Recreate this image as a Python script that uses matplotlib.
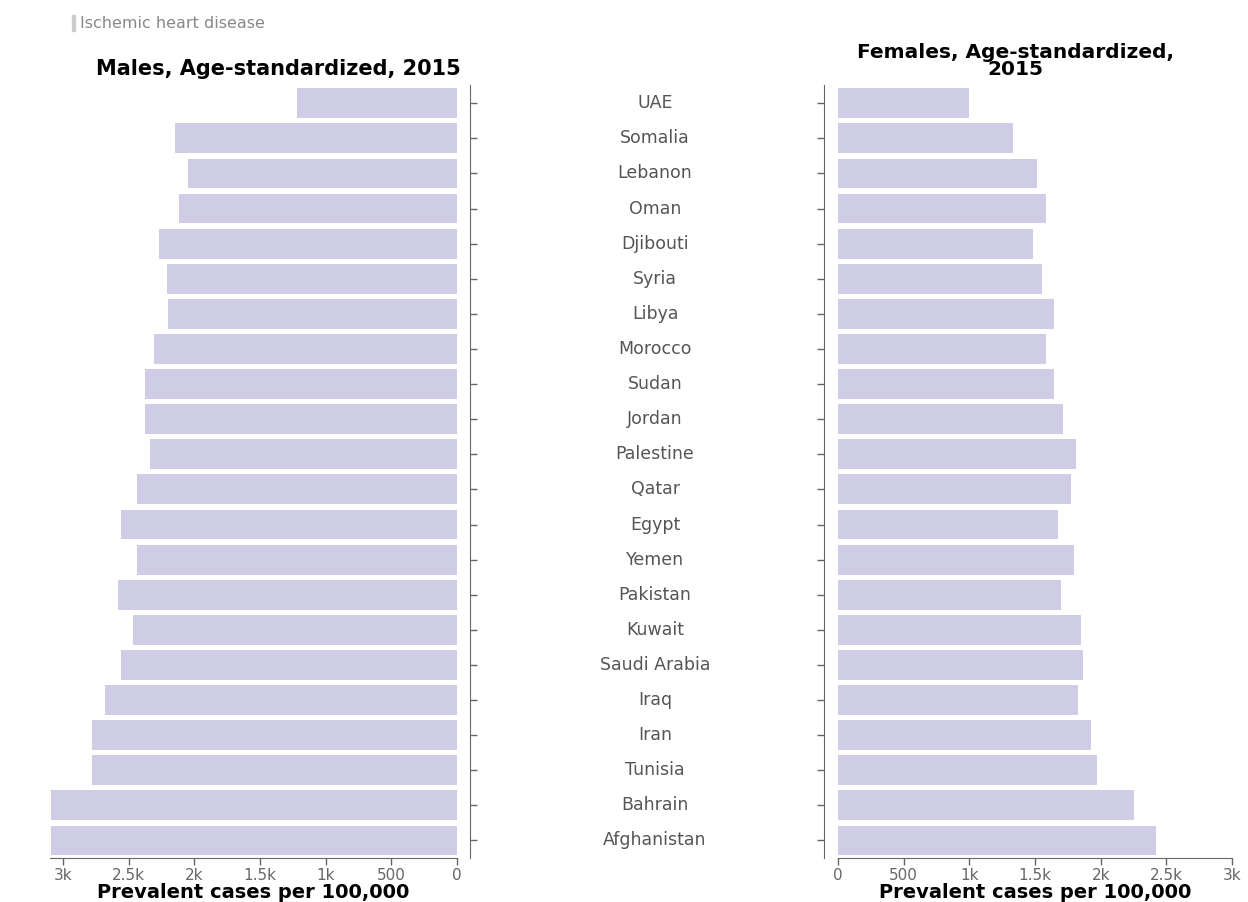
import matplotlib
matplotlib.use("Agg")
import matplotlib.pyplot as plt
import matplotlib.transforms as mtransforms

countries = ["UAE", "Somalia", "Lebanon", "Oman", "Djibouti", "Syria", "Libya",
             "Morocco", "Sudan", "Jordan", "Palestine", "Qatar", "Egypt", "Yemen",
             "Pakistan", "Kuwait", "Saudi Arabia", "Iraq", "Iran", "Tunisia",
             "Bahrain", "Afghanistan"]
males = [1220, 2150, 2050, 2120, 2270, 2210, 2200, 2310, 2380, 2380, 2340, 2440,
         2560, 2440, 2580, 2470, 2560, 2680, 2780, 2780, 3090, 3090]
females = [1000, 1336, 1519, 1580, 1481, 1557, 1641, 1580, 1641, 1710, 1809, 1771,
           1672, 1794, 1695, 1847, 1863, 1824, 1924, 1969, 2252, 2420]
ticks = [0, 500, 1000, 1500, 2000, 2500, 3000]
tick_labels = ["0", "500", "1k", "1.5k", "2k", "2.5k", "3k"]

bar_color = "#cfcde6"
grey = "#666666"

fig = plt.figure(figsize=(12.48, 9.02), dpi=100)
ax_l = fig.add_axes([50 / 1248, 44 / 902, 407 / 1248, 773 / 902])
ax_r = fig.add_axes([838 / 1248, 44 / 902, 394 / 1248, 773 / 902])

y = list(range(len(countries)))
ax_l.barh(y, males, height=0.85, color=bar_color)
ax_r.barh(y, females, height=0.85, color=bar_color)

for ax in (ax_l, ax_r):
    ax.set_ylim(len(countries) - 0.5, -0.52)
    ax.set_xticks(ticks)
    ax.set_xticklabels(tick_labels, color=grey, fontsize=11)
    ax.set_yticks(y)
    ax.set_yticklabels([])
    ax.spines["top"].set_visible(False)
    ax.tick_params(axis="both", length=5, color=grey, width=1, pad=2)
    ax.spines["bottom"].set_color(grey)
    ax.set_xlabel("Prevalent cases per 100,000", fontsize=14, fontweight="bold",
                  labelpad=0)

ax_l.set_xlim(3100, 0)
ax_l.spines["left"].set_visible(False)
ax_l.spines["right"].set_position(("outward", 9))
ax_l.spines["right"].set_color(grey)
ax_l.yaxis.tick_right()

ax_r.set_xlim(0, 3000)
ax_r.spines["right"].set_visible(False)
ax_r.spines["left"].set_position(("outward", 10))
ax_r.spines["left"].set_color(grey)

ax_l.set_title("Males, Age-standardized, 2015", fontsize=15, fontweight="bold",
               pad=7, x=0.56)
ax_r.set_title("Females, Age-standardized,\n2015", fontsize=14.5, fontweight="bold",
               pad=7, linespacing=0.9, x=0.45)

# country names between the two panels
trans = mtransforms.blended_transform_factory(fig.transFigure, ax_l.transData)
for i, c in enumerate(countries):
    ax_l.text(655 / 1248, i, c, transform=trans, ha="center", va="center",
              fontsize=12.5, color="#555555", clip_on=False)

# header legend
fig.patches.append(plt.Rectangle((72 / 1248, 1 - 31 / 902), 3 / 1248, 16 / 902,
                                 transform=fig.transFigure, color="#cccccc"))
fig.text(80 / 1248, 1 - 23 / 902, "Ischemic heart disease", fontsize=11.5,
         color="#888888", va="center")

fig.savefig("out.png", dpi=100)
